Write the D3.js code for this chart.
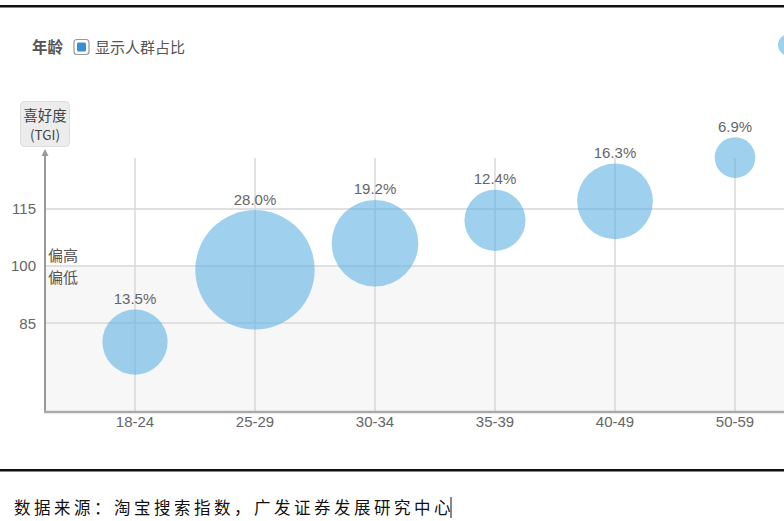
<!DOCTYPE html>
<html><head><meta charset="utf-8">
<script src="https://cdn.jsdelivr.net/npm/d3@7"></script>
<style>
html,body{margin:0;padding:0;background:#fff;overflow:hidden;}
svg{display:block;font-family:"Microsoft YaHei","Noto Sans CJK SC",Arial,sans-serif;}
</style></head>
<body>
<svg id="c" width="784" height="521"></svg>
<script>
const categories = ["18-24","25-29","30-34","35-39","40-49","50-59"];
const tgiValues = [80, 99, 106, 112, 117, 128.5];
const shareValues = [13.5, 28.0, 19.2, 12.4, 16.3, 6.9];
const yTicks = [85, 100, 115];
const legendTitle = "年龄";
const legendLabel = "显示人群占比";
const yTitle = ["喜好度", "(TGI)"];
const sourceText = "数据来源：淘宝搜索指数，广发证券发展研究中心";

(function(){
const svg = d3.select("#c");
const W = 784;
const pLeft = 45, pBottom = 412, pTop = 158;
const latin = "Arial, 'Liberation Sans', sans-serif";

const x = d3.scalePoint().domain(categories).range([135, 735]);
const y = d3.scaleLinear().domain([61.6, 128.4]).range([pBottom, pTop]);
const r = d3.scaleLinear().domain(d3.extent(shareValues)).range([20.3, 59.7]);

// top & bottom rules
svg.append("rect").attr("x",0).attr("y",5).attr("width",W).attr("height",2.5).attr("fill","#111");
svg.append("rect").attr("x",0).attr("y",469).attr("width",W).attr("height",2.5).attr("fill","#111");

// legend
svg.append("text").attr("x",32).attr("y",53).attr("font-size",15.5).attr("font-weight","bold")
  .attr("fill","#555").text(legendTitle);
svg.append("rect").attr("x",74).attr("y",39.5).attr("width",15).attr("height",15).attr("rx",3)
  .attr("fill","#fff").attr("stroke","#999").attr("stroke-width",1.2);
svg.append("rect").attr("x",77).attr("y",42.5).attr("width",9).attr("height",9).attr("rx",1.5)
  .attr("fill","#3a8ed4");
svg.append("text").attr("x",95).attr("y",53).attr("font-size",15).attr("fill","#555").text(legendLabel);
svg.append("circle").attr("cx",789).attr("cy",45).attr("r",11).attr("fill","#5fb2e4").attr("opacity",0.6);

// plot background (below 100)
svg.append("rect").attr("x",pLeft).attr("y",y(100)).attr("width",W-pLeft).attr("height",pBottom-y(100))
  .attr("fill","#f7f7f7");

// horizontal grid
svg.append("g").selectAll("line").data(yTicks).join("line")
  .attr("x1",pLeft).attr("x2",W).attr("y1",d=>y(d)).attr("y2",d=>y(d))
  .attr("stroke","#e0e0e0").attr("stroke-width",2);

// vertical grid
svg.append("g").selectAll("line").data(categories).join("line")
  .attr("x1",d=>x(d)).attr("x2",d=>x(d)).attr("y1",pTop).attr("y2",pBottom)
  .attr("stroke","#d8d8d8").attr("stroke-width",1.5);

// y tick labels
svg.append("g").selectAll("text").data(yTicks).join("text")
  .attr("x",36).attr("y",d=>y(d)+5.5).attr("text-anchor","end").attr("font-size",15)
  .attr("fill","#666").attr("font-family",latin).text(d=>d);

// x tick labels
svg.append("g").selectAll("text").data(categories).join("text")
  .attr("x",d=>x(d)).attr("y",427).attr("text-anchor","middle").attr("font-size",15)
  .attr("fill","#666").attr("font-family",latin).text(d=>d);

// 偏高 / 偏低
svg.append("text").attr("x",48).attr("y",261).attr("font-size",15).attr("fill","#555").text("偏高");
svg.append("text").attr("x",48).attr("y",283).attr("font-size",15).attr("fill","#555").text("偏低");

// bubbles
const data = categories.map((c,i)=>({c, tgi:tgiValues[i], share:shareValues[i]}));
svg.append("g").selectAll("circle").data(data).join("circle")
  .attr("cx",d=>x(d.c)).attr("cy",d=>y(d.tgi)).attr("r",d=>r(d.share))
  .attr("fill","#5fb2e4").attr("opacity",0.6);

// bubble labels
svg.append("g").selectAll("text").data(data).join("text")
  .attr("x",d=>x(d.c)).attr("y",d=>y(d.tgi)-r(d.share)-5.5).attr("text-anchor","middle")
  .attr("font-size",15).attr("fill","#666").attr("font-family",latin)
  .text(d=>d.share.toFixed(1)+"%");

// axes
svg.append("line").attr("x1",pLeft).attr("x2",pLeft).attr("y1",154).attr("y2",pBottom+1)
  .attr("stroke","#999").attr("stroke-width",2);
svg.append("line").attr("x1",pLeft-1).attr("x2",W).attr("y1",pBottom).attr("y2",pBottom)
  .attr("stroke","#aaa").attr("stroke-width",2.5);
svg.append("path").attr("d",`M${pLeft-3.5},156 L${pLeft},149 L${pLeft+3.5},156 Z`).attr("fill","#999");

// y title box
svg.append("rect").attr("x",20.5).attr("y",101.5).attr("width",49).attr("height",45).attr("rx",4)
  .attr("fill","#ececec").attr("stroke","#dcdcdc").attr("stroke-width",1);
svg.append("text").attr("x",45).attr("y",120.5).attr("text-anchor","middle").attr("font-size",14.5)
  .attr("fill","#444").text(yTitle[0]);
svg.append("text").attr("x",45).attr("y",140).attr("text-anchor","middle").attr("font-size",13.5)
  .attr("fill","#444").text(yTitle[1]);

// source
svg.append("text").attr("x",14).attr("y",514).attr("font-size",16.5).attr("letter-spacing",3.5)
  .attr("fill","#111").attr("font-family","'Noto Sans CJK SC', serif").text(sourceText);
svg.append("line").attr("x1",451).attr("x2",451).attr("y1",497).attr("y2",518).attr("stroke","#111").attr("stroke-width",1);
})();
</script>
</body></html>
